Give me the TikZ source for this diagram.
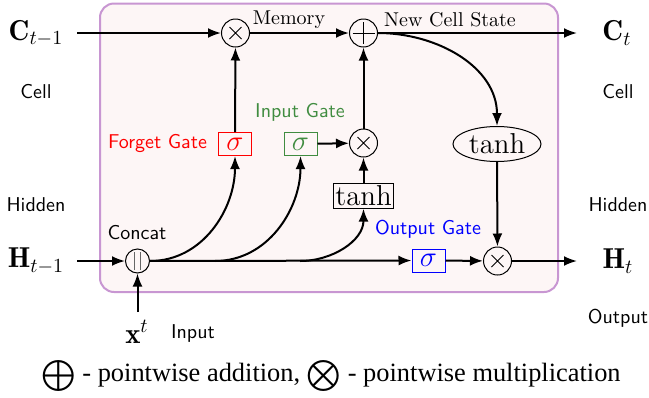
\documentclass[tikz,border=0pt]{standalone}
\usepackage{fontspec}
\newfontfamily\timesf{Liberation Serif}
\usetikzlibrary{arrows.meta,shapes.geometric}
\definecolor{gfill}{RGB}{253,246,246}
\definecolor{gborder}{RGB}{200,150,210}
\definecolor{ggreen}{RGB}{64,140,64}
\begin{document}
\begin{tikzpicture}[x=0.5pt,y=-0.5pt,
  >={Latex[length=6.5pt,width=5pt]},
  conn/.style={line width=1pt},
  opnode/.style={circle,draw,line width=0.5pt,minimum size=14pt,inner sep=0pt},
  mult/.style={opnode,path picture={
    \draw[line width=0.5pt] ([shift={(-3pt,-3pt)}]path picture bounding box.center) -- ++(6pt,6pt)
      ([shift={(-3pt,3pt)}]path picture bounding box.center) -- ++(6pt,-6pt);}},
  plus/.style={opnode,path picture={
    \draw[line width=0.5pt] ([shift={(-5.5pt,0pt)}]path picture bounding box.center) -- ++(11pt,0pt)
      ([shift={(0pt,-5.5pt)}]path picture bounding box.center) -- ++(0pt,11pt);}},
  concat/.style={circle,draw,line width=0.5pt,minimum size=12pt,inner sep=0pt,path picture={
    \draw[line width=0.6pt,black!60] ([shift={(-1.5pt,-4.5pt)}]path picture bounding box.center) -- ++(0pt,9pt)
      ([shift={(1.5pt,-4.5pt)}]path picture bounding box.center) -- ++(0pt,9pt);}},
  sbox/.style={draw,line width=0.5pt,minimum width=16.5pt,minimum height=11.5pt,inner sep=0pt,font=\Large},
  sidelbl/.style={font=\sffamily},
  toplbl/.style={font=\normalsize},
]
\useasboundingbox (0,0) rectangle (649,397);
% background box
\draw[gborder,fill=gfill,line width=1pt,rounded corners=7pt] (100,3.5) rectangle (558,292);

% operators
\node[mult] (f) at (235.5,33) {};
\node[plus] (p) at (363.5,33) {};
\node[mult] (im) at (363.5,143) {};
\node[mult] (om) at (497.5,261) {};
\node[concat] (cc) at (137.5,261) {};

% gates
\node[sbox,draw=red,text=red] (fs) at (235,144) {$\sigma$};
\node[sbox,draw=ggreen,text=ggreen] (is) at (300.5,144) {$\sigma$};
\node[sbox,draw=blue,text=blue] (os) at (428.5,260.5) {$\sigma$};
\node[draw,line width=0.5pt,inner sep=1pt,font=\Large] (tb) at (363.5,196) {$\tanh$};
\node[ellipse,draw,line width=0.5pt,font=\Large,minimum width=44pt,minimum height=17.5pt,inner sep=0pt] (te) at (497,144) {$\tanh$};

% inputs/outputs
\node (ctm) at (36,33) {\Large$\mathbf{C}_{t-1}$};
\node (ct) at (617,33) {\Large$\mathbf{C}_t$};
\node (htm) at (36,261) {\Large$\mathbf{H}_{t-1}$};
\node (ht) at (618,261) {\Large$\mathbf{H}_t$};
\node (xt) at (137,332) {\Large$\mathbf{x}^t$};
\coordinate (cin) at (77,33);
\coordinate (cout) at (577,33);
\coordinate (hin) at (77,261);
\coordinate (hout) at (577,261);
\coordinate (xin) at (137.5,312);
\coordinate (b2) at (215,261);
\coordinate (b3) at (300,261);

% labels
\node[sidelbl] (l1) at (36,92) {Cell};
\node[sidelbl] (l2) at (618,92) {Cell};
\node[sidelbl] (l3) at (36,205) {Hidden};
\node[sidelbl] (l4) at (618,205) {Hidden};
\node[sidelbl] (l5) at (618,318) {Output};
\node[sidelbl] (l6) at (193,333) {Input};
\node[sidelbl] (l7) at (137,233) {Concat};
\node[sidelbl,text=red] (l8) at (157.5,143) {Forget Gate};
\node[sidelbl,text=ggreen] (l9) at (300,112) {Input Gate};
\node[sidelbl,text=blue] (l10) at (428,229) {Output Gate};
\node[toplbl] (l11) at (289,20) {Memory};
\node[toplbl] (l12) at (450,20) {New Cell State};

% connectors
\draw[conn,->] (cin) -- (f);
\draw[conn,->] (f) -- (p);
\draw[conn,->] (p) -- (cout);
\draw[conn,->] (p.east) to[out=0,in=90] (te.north);
\draw[conn,->] (te) -- (om);
\draw[conn,->] (om) -- (hout);
\draw[conn,->] (os) -- (om);
\draw[conn,->] (hin) -- (cc);
\draw[conn,->] (xin) -- (cc);
\draw[conn,->] (cc) -- (os);
\draw[conn,->] (cc.east) to[out=0,in=-90] (fs.south);
\draw[conn,->] (b2) to[out=0,in=-90] (is.south);
\draw[conn,->] (b3) to[out=0,in=-90] (tb.south);
\draw[conn,->] (fs) -- (f);
\draw[conn,->] (is) -- (im);
\draw[conn,->] (tb) -- (im);
\draw[conn,->] (im) -- (p);

% legend
\node (leg) at (331,376) {\timesf\fontsize{13.2}{16}\selectfont \raisebox{-0.15em}{\scalebox{1.55}{$\bigoplus$}} - pointwise addition, \raisebox{-0.15em}{\scalebox{1.55}{$\bigotimes$}} - pointwise multiplication};
\end{tikzpicture}
\end{document}
